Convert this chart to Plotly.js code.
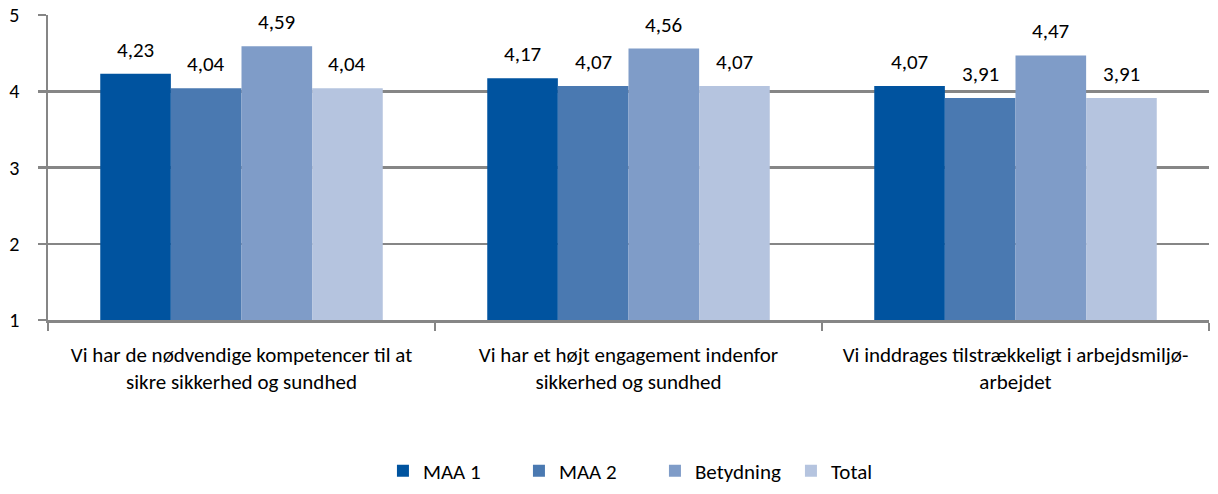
<!DOCTYPE html>
<html><head><meta charset="utf-8">
<script src="https://cdn.plot.ly/plotly-3.0.1.min.js"></script>
<style>body{margin:0;background:#fff}#c{width:1218px;height:494px}</style>
</head><body><div id="c"></div>
<script>
const categories = [
  "Vi har de nødvendige kompetencer til at<br>sikre sikkerhed og sundhed",
  "Vi har et højt engagement indenfor<br>sikkerhed og sundhed",
  "Vi inddrages tilstrækkeligt i arbejdsmiljø-<br>arbejdet"
];
const seriesNames = ["MAA 1", "MAA 2", "Betydning", "Total"];
const maa1 = [4.23, 4.17, 4.07];
const maa2 = [4.04, 4.07, 3.91];
const betydning = [4.59, 4.56, 4.47];
const total = [4.04, 4.07, 3.91];
const yTicks = [1, 2, 3, 4, 5];
const colors = ["#00539F", "#4A79B1", "#7F9CC8", "#B5C4DF"];

const fmt = v => v.toFixed(2).replace('.', ',');
const font = "Carlito, Calibri, 'Open Sans', sans-serif";
const series = [maa1, maa2, betydning, total];
const bargap = 0.27;
const plotW = 1218 - 48 - 9;
const barPx = plotW / categories.length * (1 - bargap) / series.length;

const data = series.map((vals, i) => ({
  type: 'bar', name: seriesNames[i], x: categories, y: vals,
  marker: {color: colors[i], line: {width: 0}},
  hoverinfo: 'none'
}));

const annotations = [];
series.forEach((vals, i) => vals.forEach((v, j) => annotations.push({
  x: categories[j], y: v, xref: 'x', yref: 'y', text: fmt(v), showarrow: false,
  xanchor: 'center', yanchor: 'bottom', yshift: 9,
  xshift: (i - (series.length - 1) / 2) * barPx,
  font: {family: font, size: 21, color: '#000'}
})));

Plotly.newPlot('c', data, {
  width: 1218, height: 494,
  margin: {l: 48, r: 9, t: 15, b: 174},
  paper_bgcolor: '#fff', plot_bgcolor: '#fff',
  barmode: 'group', bargap: bargap, bargroupgap: 0,
  font: {family: font, size: 20, color: '#000'},
  showlegend: true, annotations: annotations,
  legend: {orientation: 'h', x: 0.2885, xanchor: 'left', yref: 'container', y: 0.005, yanchor: 'bottom',
    font: {family: font, size: 21}, itemwidth: 30, traceorder: 'normal',
    entrywidth: 91, bgcolor: 'rgba(0,0,0,0)'},
  xaxis: {showline: true, linecolor: '#868686', linewidth: 2.5, ticks: 'outside',
    tickson: 'boundaries', ticklen: 8, tickcolor: '#868686', tickwidth: 2.5,
    tickfont: {family: font, size: 21}, showgrid: false, ticklabelstandoff: 14,
    automargin: false},
  yaxis: {range: [1, 5], tickvals: yTicks,
    showline: true, linecolor: '#868686', linewidth: 2.5, ticks: 'outside', ticklen: 8,
    tickcolor: '#868686', tickwidth: 2.5, showgrid: true, gridcolor: '#868686', gridwidth: 2.5,
    zeroline: false, tickfont: {family: font, size: 20}, ticklabelstandoff: 14,
    automargin: false}
}, {staticPlot: true});
</script></body></html>
